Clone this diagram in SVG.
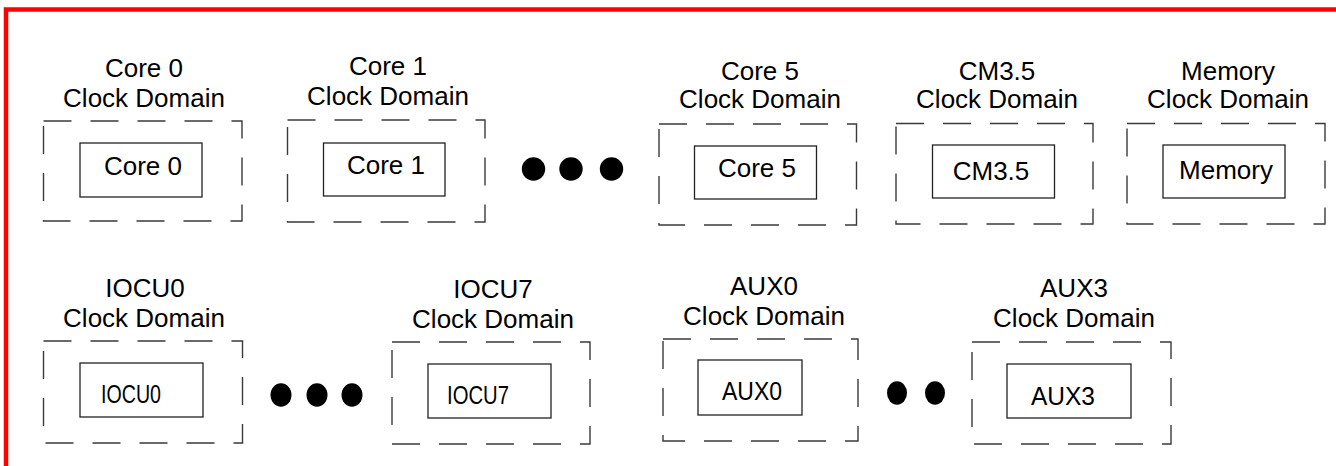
<svg xmlns="http://www.w3.org/2000/svg" width="1336" height="466" viewBox="0 0 1336 466">
<style>
  .dom{fill:none;stroke:#3a3a3a;stroke-width:1.4;stroke-dasharray:28 19}
  .blk{fill:#fff;stroke:#222;stroke-width:1.3}
  .t{font-family:"Liberation Sans",Arial,sans-serif;font-size:26px;fill:#000;text-anchor:middle}
  .dot{fill:#000}
</style>
<rect x="0" y="0" width="1336" height="466" fill="#fff"/>
<path d="M6 466 V9.5 H1336" fill="none" stroke="#ff0000" stroke-width="4.5"/>

<g id="core0">
  <text class="t" x="144" y="77">Core 0</text>
  <text class="t" x="144" y="107">Clock Domain</text>
  <rect class="dom" x="43.5" y="121" width="198.5" height="100"/>
  <rect class="blk" x="80" y="143" width="122" height="54"/>
  <text class="t" x="143" y="175">Core 0</text>
</g>
<g id="core1">
  <text class="t" x="388" y="75">Core 1</text>
  <text class="t" x="388" y="105">Clock Domain</text>
  <rect class="dom" x="287.5" y="120" width="197.5" height="102"/>
  <rect class="blk" x="323.5" y="143" width="121.5" height="53"/>
  <text class="t" x="386" y="174">Core 1</text>
</g>
<g id="core5">
  <text class="t" x="760" y="80">Core 5</text>
  <text class="t" x="760" y="108">Clock Domain</text>
  <rect class="dom" x="659" y="124" width="197.5" height="101"/>
  <rect class="blk" x="694.5" y="146" width="122" height="53"/>
  <text class="t" x="757" y="177">Core 5</text>
</g>
<g id="cm35">
  <text class="t" x="997" y="80">CM3.5</text>
  <text class="t" x="997" y="108">Clock Domain</text>
  <rect class="dom" x="896" y="123.5" width="197" height="100.5"/>
  <rect class="blk" x="932.5" y="145" width="122" height="53"/>
  <text class="t" x="991" y="180">CM3.5</text>
</g>
<g id="memory">
  <text class="t" x="1228" y="80">Memory</text>
  <text class="t" x="1228" y="108">Clock Domain</text>
  <rect class="dom" x="1127" y="123.5" width="198" height="100.5"/>
  <rect class="blk" x="1163" y="145" width="122" height="53"/>
  <text class="t" x="1226" y="179">Memory</text>
</g>

<g id="ellipsis1">
  <circle class="dot" cx="533.5" cy="169" r="11.7"/>
  <circle class="dot" cx="571" cy="169" r="11.7"/>
  <circle class="dot" cx="611.5" cy="169" r="11.7"/>
</g>

<g id="iocu0">
  <text class="t" x="145" y="297">IOCU0</text>
  <text class="t" x="144" y="327">Clock Domain</text>
  <rect class="dom" x="43.5" y="341" width="199" height="102"/>
  <rect class="blk" x="80" y="363" width="123" height="54"/>
  <text class="t" x="131" y="403" textLength="60" lengthAdjust="spacingAndGlyphs">IOCU0</text>
</g>
<g id="iocu7">
  <text class="t" x="493" y="298">IOCU7</text>
  <text class="t" x="493" y="328">Clock Domain</text>
  <rect class="dom" x="392" y="342" width="198" height="102"/>
  <rect class="blk" x="428" y="364" width="123" height="54"/>
  <text class="t" x="478" y="404" textLength="62" lengthAdjust="spacingAndGlyphs">IOCU7</text>
</g>
<g id="aux0">
  <text class="t" x="764" y="295">AUX0</text>
  <text class="t" x="764" y="325">Clock Domain</text>
  <rect class="dom" x="663" y="339" width="195" height="102"/>
  <rect class="blk" x="698" y="360" width="104" height="55"/>
  <text class="t" x="752" y="400" textLength="60" lengthAdjust="spacingAndGlyphs">AUX0</text>
</g>
<g id="aux3">
  <text class="t" x="1074" y="297">AUX3</text>
  <text class="t" x="1074" y="327">Clock Domain</text>
  <rect class="dom" x="972" y="342" width="199" height="102"/>
  <rect class="blk" x="1007" y="364" width="124" height="54"/>
  <text class="t" x="1063" y="405" textLength="64" lengthAdjust="spacingAndGlyphs">AUX3</text>
</g>

<g id="ellipsis2">
  <ellipse class="dot" cx="281" cy="395" rx="10.5" ry="11.7"/>
  <ellipse class="dot" cx="317" cy="395" rx="10.5" ry="11.7"/>
  <ellipse class="dot" cx="352" cy="395" rx="10.5" ry="11.7"/>
  <ellipse class="dot" cx="897" cy="393" rx="10" ry="11.7"/>
  <ellipse class="dot" cx="935" cy="393" rx="10" ry="11.7"/>
</g>
<g id="connectors"></g>
</svg>
